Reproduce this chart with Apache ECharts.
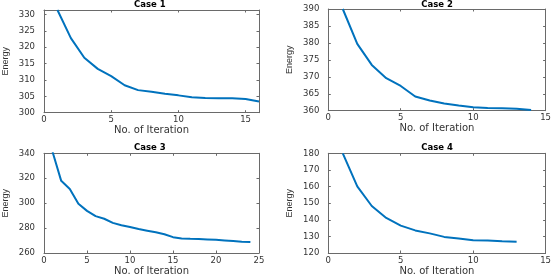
<!DOCTYPE html>
<html>
<head>
<meta charset="utf-8">
<script src="https://cdn.jsdelivr.net/npm/echarts@6/dist/echarts.min.js"></script>
<style>
html,body{margin:0;padding:0;background:#fff;}
#c{width:554px;height:277px;}
</style>
</head>
<body>
<div id="c"></div>
<script>
// ---- data ----
var titles = ['Case 1', 'Case 2', 'Case 3', 'Case 4'];
var iter1 = [1, 2, 3, 4, 5, 6, 7, 8, 9, 10, 11, 12, 13, 14, 15, 16];
var energy1 = [331.4, 322.8, 316.8, 313.4, 311.2, 308.4, 306.9, 306.4, 305.8, 305.3, 304.7, 304.5, 304.4, 304.4, 304.2, 303.4];
var iter2 = [1, 2, 3, 4, 5, 6, 7, 8, 9, 10, 11, 12, 13, 14];
var energy2 = [390, 379.7, 373.5, 369.6, 367.3, 364.2, 363.0, 362.1, 361.5, 361.0, 360.8, 360.7, 360.6, 360.2];
var iter3 = [1, 2, 3, 4, 5, 6, 7, 8, 9, 10, 11, 12, 13, 14, 15, 16, 17, 18, 19, 20, 21, 22, 23, 24];
var energy3 = [341, 317.9, 311.4, 299.5, 293.8, 289.6, 287.5, 284.2, 282.3, 280.8, 279.2, 277.9, 276.6, 275.1, 272.7, 271.7, 271.4, 271.2, 270.9, 270.6, 270.1, 269.6, 269.1, 268.8];
var iter4 = [1, 2, 3, 4, 5, 6, 7, 8, 9, 10, 11, 12, 13];
var energy4 = [180, 160.1, 148.3, 141.1, 136.5, 133.6, 131.8, 129.7, 128.7, 127.7, 127.5, 127.1, 126.8];
// axis ranges: [min, max, step]
var xRanges = [[0, 16, 5], [0, 15, 5], [0, 25, 5], [0, 15, 5]];
var yRanges = [[300, 331.4, 5], [360, 390, 5], [260, 340, 20], [120, 180, 10]];
var xName = 'No. of Iteration';
var yName = 'Energy';

// ---- layout ----
var grids = [
  {left: 40.7, top: 10, width: 218.3, height: 102.7},
  {left: 328.3, top: 9, width: 217.4, height: 101.7},
  {left: 40.7, top: 153.3, width: 218.3, height: 102.7},
  {left: 328.3, top: 153.3, width: 217.4, height: 103.7}
];
var titleY = [-0.2, -0.2, 143.4, 143.4];

var iters = [iter1, iter2, iter3, iter4];
var energies = [energy1, energy2, energy3, energy4];

var axisColor = '#6a6a6a';
var labelColor = '#333';
var font = 'DejaVu Sans';

function fmt(step) {
  return function (v) {
    var r = Math.round(v / step) * step;
    return Math.abs(r - v) < 1e-6 ? String(r) : '';
  };
}

var option = {
  animation: false,
  backgroundColor: '#fff',
  title: [],
  grid: [],
  xAxis: [],
  yAxis: [],
  series: []
};

for (var i = 0; i < 4; i++) {
  var g = grids[i];
  option.grid.push({left: g.left, top: g.top, width: g.width, height: g.height, containLabel: false});
  option.title.push({
    text: titles[i],
    left: g.left + g.width / 2,
    top: titleY[i],
    padding: 0,
    textAlign: 'center',
    textStyle: {fontFamily: font, fontWeight: 'bold', fontSize: 8.5, color: '#000'}
  });
  var xr = xRanges[i], yr = yRanges[i];
  var baseX = {
    type: 'value', gridIndex: i, min: xr[0], max: xr[1], interval: xr[2],
    axisLine: {show: true, onZero: false, lineStyle: {color: axisColor, width: 1}},
    axisTick: {show: true, inside: true, length: 2.5, lineStyle: {color: axisColor}},
    splitLine: {show: false}
  };
  var bottomX = Object.assign({}, baseX, {
    position: 'bottom',
    name: xName, nameLocation: 'middle', nameGap: 13,
    nameTextStyle: {fontFamily: font, fontSize: 10, color: labelColor},
    axisLabel: {show: true, margin: 3, fontFamily: font, fontSize: 8.5, color: labelColor, formatter: fmt(xr[2])}
  });
  var topX = Object.assign({}, baseX, {position: 'top', axisLabel: {show: false}});
  var baseY = {
    type: 'value', gridIndex: i, min: yr[0], max: yr[1], interval: yr[2],
    axisLine: {show: true, onZero: false, lineStyle: {color: axisColor, width: 1}},
    axisTick: {show: true, inside: true, length: 2.5, lineStyle: {color: axisColor}},
    splitLine: {show: false}
  };
  var leftY = Object.assign({}, baseY, {
    position: 'left',
    name: yName, nameLocation: 'middle', nameGap: 34, nameRotate: 90,
    nameTextStyle: {fontFamily: 'Liberation Sans Narrow, Liberation Sans, sans-serif', fontSize: 9, color: labelColor},
    axisLabel: {show: true, margin: 9, fontFamily: font, fontSize: 8.5, color: labelColor, formatter: fmt(yr[2])}
  });
  var rightY = Object.assign({}, baseY, {position: 'right', axisLabel: {show: false}});
  option.xAxis.push(bottomX, topX);
  option.yAxis.push(leftY, rightY);
  var pts = [];
  for (var k = 0; k < iters[i].length; k++) pts.push([iters[i][k], energies[i][k]]);
  option.series.push({
    type: 'line',
    xAxisIndex: 2 * i,
    yAxisIndex: 2 * i,
    data: pts,
    showSymbol: false,
    symbol: 'none',
    clip: true,
    lineStyle: {color: '#0072BD', width: 2},
    itemStyle: {color: '#0072BD'}
  });
}

var chart = echarts.init(document.getElementById('c'), null, {renderer: 'canvas'});
chart.setOption(option);
</script>
</body>
</html>
